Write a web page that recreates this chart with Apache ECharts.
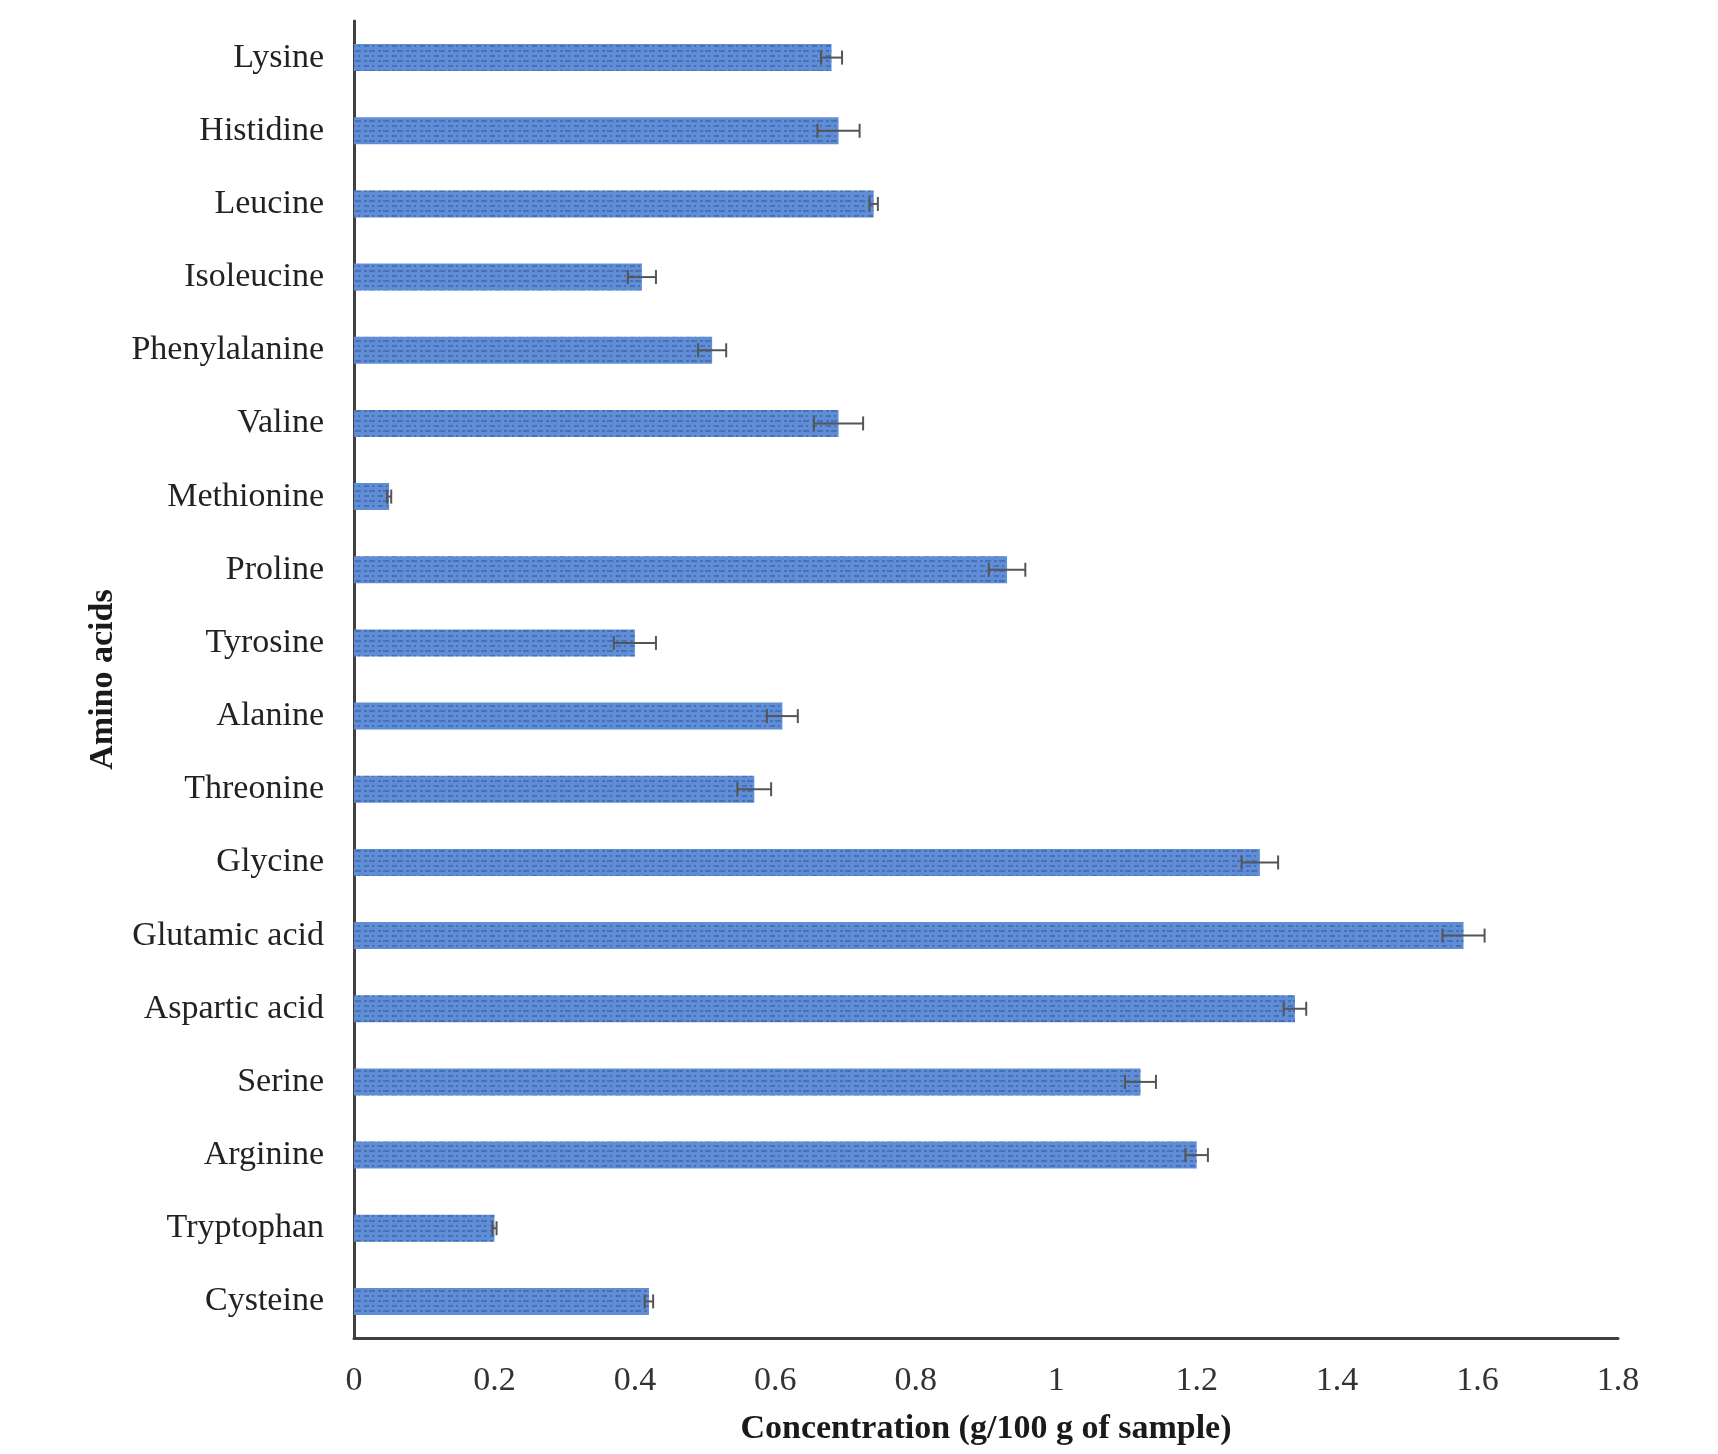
<!DOCTYPE html>
<html>
<head>
<meta charset="utf-8">
<script src="https://cdn.jsdelivr.net/npm/echarts@6/dist/echarts.min.js"></script>
<style>
html,body{margin:0;padding:0;background:#fff;}
#chart{width:1718px;height:1454px;}
</style>
</head>
<body>
<div id="chart"></div>
<script>
const categories = ["Lysine","Histidine","Leucine","Isoleucine","Phenylalanine","Valine","Methionine","Proline","Tyrosine","Alanine","Threonine","Glycine","Glutamic acid","Aspartic acid","Serine","Arginine","Tryptophan","Cysteine"];
const values = [0.68,0.69,0.74,0.41,0.51,0.69,0.05,0.93,0.40,0.61,0.57,1.29,1.58,1.34,1.12,1.20,0.20,0.42];
const errors = [0.015,0.03,0.006,0.02,0.02,0.035,0.003,0.026,0.03,0.022,0.024,0.026,0.03,0.016,0.022,0.016,0.003,0.006];
const xTicks = [0,0.2,0.4,0.6,0.8,1,1.2,1.4,1.6,1.8];

const errData = values.map((v,i)=>[i, v, errors[i]]);
const font = "'Liberation Serif','Times New Roman',serif";

const chart = echarts.init(document.getElementById('chart'));
chart.setOption({
  backgroundColor:'#fff',
  animation:false,
  grid:{left:354,right:100,top:21,bottom:116,containLabel:false},
  xAxis:{
    type:'value',min:0,max:1.8,interval:0.2,
    name:'Concentration (g/100 g of sample)',
    nameLocation:'middle',nameGap:74,
    nameTextStyle:{fontFamily:font,fontSize:34,fontWeight:'bold',color:'#1a1a1a'},
    axisLine:{show:true,lineStyle:{color:'#404040',width:3}},
    axisTick:{show:false},
    splitLine:{show:false},
    axisLabel:{fontFamily:font,fontSize:34,color:'#333',margin:26,
      formatter:function(v){const t=xTicks.find(x=>Math.abs(x-v)<1e-9);return t===undefined?'':String(t);}}
  },
  yAxis:{
    type:'category',data:categories,inverse:true,
    name:'Amino acids',nameLocation:'middle',nameGap:233,nameRotate:90,
    nameTextStyle:{fontFamily:font,fontSize:34,fontWeight:'bold',color:'#1a1a1a'},
    axisLine:{show:true,lineStyle:{color:'#404040',width:3}},
    axisTick:{show:false},
    splitLine:{show:false},
    axisLabel:{fontFamily:font,fontSize:34,color:'#222',margin:30}
  },
  series:[
    {
      type:'bar',data:values,barWidth:27,
      itemStyle:{
        color:'#5f8dd6',
        decal:{symbol:'rect',symbolSize:1,color:'rgba(35,65,135,0.38)',
          dashArrayX:[[5,3,2,4],[3,2,6,3]],dashArrayY:[2,3],rotation:0}
      }
    },
    {
      type:'custom',
      data:errData,
      encode:{x:1,y:0},
      renderItem:function(params,api){
        const i=api.value(0), v=api.value(1), e=api.value(2);
        const lo=api.coord([v-e,i]), hi=api.coord([v+e,i]);
        const h=7;
        const st={stroke:'#555',lineWidth:2};
        return {type:'group',children:[
          {type:'line',shape:{x1:lo[0],y1:lo[1],x2:hi[0],y2:hi[1]},style:st},
          {type:'line',shape:{x1:lo[0],y1:lo[1]-h,x2:lo[0],y2:lo[1]+h},style:st},
          {type:'line',shape:{x1:hi[0],y1:hi[1]-h,x2:hi[0],y2:hi[1]+h},style:st}
        ]};
      },
      z:5
    }
  ],
  aria:{enabled:true,decal:{show:true}}
});
</script>
</body>
</html>
